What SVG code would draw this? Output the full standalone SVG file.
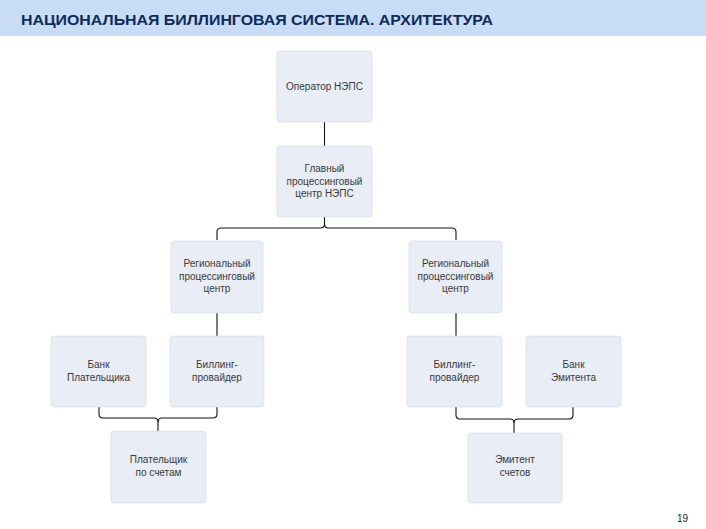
<svg xmlns="http://www.w3.org/2000/svg" width="706" height="529" viewBox="0 0 706 529">
<style>
.box{fill:#e8edf6;stroke:#d0d6e0;stroke-width:0.6}
.t{font-family:"Liberation Sans",Arial,sans-serif;font-size:10px;fill:#3a3a3a;text-anchor:middle}
.c{fill:none;stroke:#111;stroke-width:1.1}
</style>
<rect x="0" y="0" width="706" height="529" fill="#ffffff"/>
<rect x="0" y="0" width="706" height="36" fill="#c8dcf6"/>
<text x="21" y="25" font-family="'Liberation Sans',Arial,sans-serif" font-weight="bold" font-size="15" fill="#0d2a5a" textLength="472" lengthAdjust="spacingAndGlyphs">НАЦИОНАЛЬНАЯ БИЛЛИНГОВАЯ СИСТЕМА. АРХИТЕКТУРА</text>
<g id="connectors">
<path class="c" d="M324.5 122V146"/>
<path class="c" d="M324.5 217V224Q324.5 228 320.5 228H221Q217 228 217 232V240"/>
<path class="c" d="M324.5 224Q324.5 228 328.5 228H452Q456 228 456 232V240"/>
<path class="c" d="M217 313V336"/>
<path class="c" d="M456 313V336"/>
<path class="c" d="M99 407V414Q99 418 103 418H154Q158 418 158 422V431"/>
<path class="c" d="M217 407V414Q217 418 213 418H162Q158 418 158 422"/>
<path class="c" d="M456 407V415Q456 419 460 419H510Q514 419 514 423V433"/>
<path class="c" d="M573 407V415Q573 419 569 419H518Q514 419 514 423"/>
</g>
<g id="n1"><rect class="box" x="277" y="51" width="95" height="71" rx="3"/><text class="t" x="324.5" y="90">Оператор НЭПС</text></g>
<g id="n2"><rect class="box" x="277" y="146" width="95" height="71" rx="3"/><text class="t" x="324.5" y="172">Главный</text><text class="t" x="324.5" y="184.5">процессинговый</text><text class="t" x="324.5" y="197">центр НЭПС</text></g>
<g id="n3"><rect class="box" x="171" y="241" width="92" height="72" rx="3"/><text class="t" x="217" y="267">Региональный</text><text class="t" x="217" y="279.5">процессинговый</text><text class="t" x="217" y="292">центр</text></g>
<g id="n4"><rect class="box" x="409" y="241" width="93" height="72" rx="3"/><text class="t" x="455.5" y="267">Региональный</text><text class="t" x="455.5" y="279.5">процессинговый</text><text class="t" x="455.5" y="292">центр</text></g>
<g id="n5"><rect class="box" x="51" y="336" width="95" height="71" rx="3"/><text class="t" x="98.5" y="368">Банк</text><text class="t" x="98.5" y="380.5">Плательщика</text></g>
<g id="n6"><rect class="box" x="170" y="336" width="94" height="71" rx="3"/><text class="t" x="217" y="368">Биллинг-</text><text class="t" x="217" y="380.5">провайдер</text></g>
<g id="n7"><rect class="box" x="407" y="336" width="95" height="71" rx="3"/><text class="t" x="454.5" y="368">Биллинг-</text><text class="t" x="454.5" y="380.5">провайдер</text></g>
<g id="n8"><rect class="box" x="526" y="336" width="95" height="71" rx="3"/><text class="t" x="573.5" y="368">Банк</text><text class="t" x="573.5" y="380.5">Эмитента</text></g>
<g id="n9"><rect class="box" x="111" y="431" width="95" height="72" rx="3"/><text class="t" x="158.5" y="463">Плательщик</text><text class="t" x="158.5" y="475.5">по счетам</text></g>
<g id="n10"><rect class="box" x="468" y="433" width="94" height="70" rx="3"/><text class="t" x="515" y="463">Эмитент</text><text class="t" x="515" y="475.5">счетов</text></g>
<text x="688" y="522" font-family="'Liberation Sans',Arial,sans-serif" font-size="10" fill="#222" text-anchor="end">19</text>
</svg>
